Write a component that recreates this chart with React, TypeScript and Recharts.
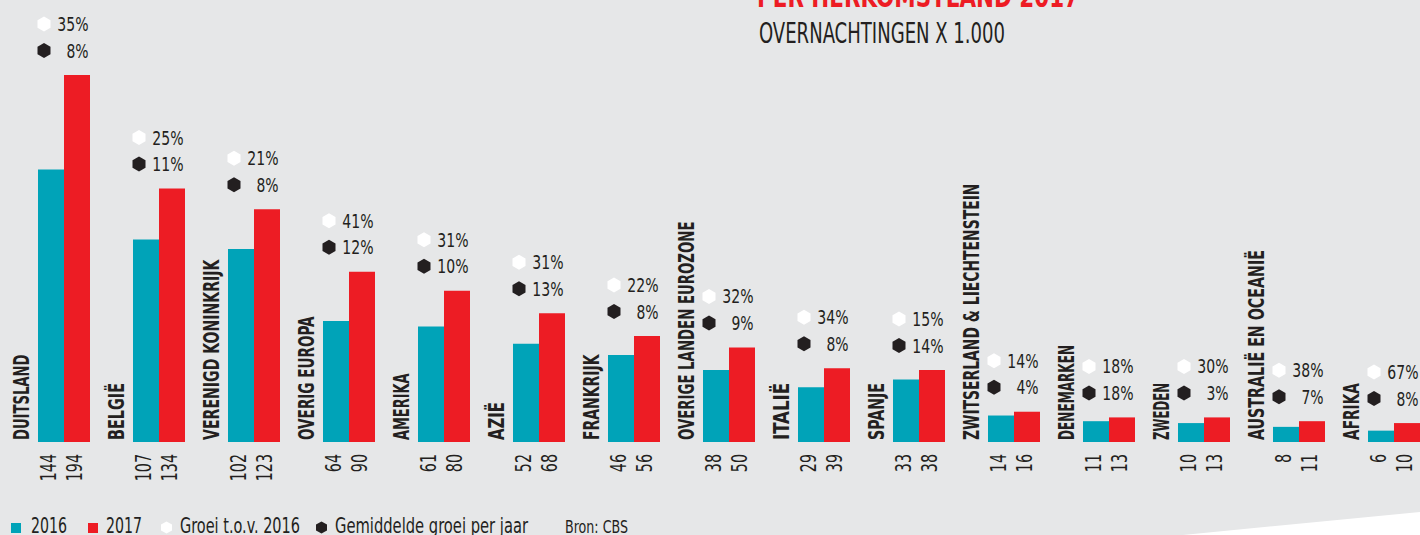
import * as React from 'react';
import { Bar, BarChart, LabelList, XAxis, YAxis } from 'recharts';

const categories = [
  'DUITSLAND',
  'BELGIË',
  'VERENIGD KONINKRIJK',
  'OVERIG EUROPA',
  'AMERIKA',
  'AZIË',
  'FRANKRIJK',
  'OVERIGE LANDEN EUROZONE',
  'ITALIË',
  'SPANJE',
  'ZWITSERLAND & LIECHTENSTEIN',
  'DENEMARKEN',
  'ZWEDEN',
  'AUSTRALIË EN OCEANIË',
  'AFRIKA',
];
const values2016 = [144, 107, 102, 64, 61, 52, 46, 38, 29, 33, 14, 11, 10, 8, 6];
const values2017 = [194, 134, 123, 90, 80, 68, 56, 50, 39, 38, 16, 13, 13, 11, 10];
const groeiVs2016 = [35, 25, 21, 41, 31, 31, 22, 32, 34, 15, 14, 18, 30, 38, 67];
const gemiddeldPerJaar = [8, 11, 8, 12, 10, 13, 8, 9, 8, 14, 4, 18, 3, 7, 8];

const data = categories.map((name, i) => ({
  name,
  v2016: values2016[i],
  v2017: values2017[i],
  groei: groeiVs2016[i],
  gem: gemiddeldPerJaar[i],
}));

const TEAL = '#00a3b8';
const RED = '#ed1c24';
const INK = '#231f20';
const BG = '#e6e7e8';
const FONT = '"Liberation Sans Narrow", "DejaVu Sans Condensed", sans-serif';

const CHART_W = 1441;
const CHART_H = 535;
const AXIS_H = 30;
const MARGIN = { top: 75, right: 0, left: 16, bottom: 63 };
const BASE_Y = CHART_H - MARGIN.bottom - AXIS_H;

// rough width of a condensed-light figure string
const numWidth = (s: string) =>
  s.split('').reduce((w, c) => w + (c === '%' ? 13 : 9.1), 0);

function hexPoints(cx: number, cy: number, w: number, h: number) {
  const hw = w / 2;
  const hh = h / 2;
  return [
    [cx, cy - hh],
    [cx + hw, cy - hh / 2],
    [cx + hw, cy + hh / 2],
    [cx, cy + hh],
    [cx - hw, cy + hh / 2],
    [cx - hw, cy - hh / 2],
  ]
    .map(p => p.join(','))
    .join(' ');
}

function box(props: any) {
  const vb = props.viewBox ?? props;
  return {
    x: Number(vb.x ?? props.x),
    y: Number(vb.y ?? props.y),
    width: Number(vb.width ?? props.width),
    height: Number(vb.height ?? props.height),
  };
}

// category name, rotated, left of the bar pair
const CategoryTick = (props: any) => {
  const { x, payload } = props;
  const label = String(payload.value);
  return (
    <text
      transform={`translate(${x - 35},${BASE_Y - 2}) rotate(-90)`}
      fontFamily={FONT}
      fontWeight={700}
      fontSize={21.5}
      fill={INK}
      textLength={label.length * 9.5}
      lengthAdjust='spacingAndGlyphs'
    >
      {label}
    </text>
  );
};

// value below a bar
const ValueLabel = (props: any) => {
  const { x, width } = box(props);
  const s = String(props.value);
  return (
    <text
      transform={`translate(${x + width / 2 + 5},${BASE_Y + 12}) rotate(-90)`}
      textAnchor='end'
      fontFamily={FONT}
      fontSize={20.5}
      fill={INK}
      textLength={numWidth(s)}
      lengthAdjust='spacingAndGlyphs'
    >
      {s}
    </text>
  );
};

// growth figures above the 2017 bar
const GrowthLabel = (props: any) => {
  const { x, y, width } = box(props);
  const d = data[props.index];
  const hx = x - width + 6;
  const right = x + width - 1.5;
  const a = `${d.groei}%`;
  const b = `${d.gem}%`;
  return (
    <g fontFamily={FONT} fontSize={20} fill={INK}>
      <polygon points={hexPoints(hx, y - 51, 13, 15)} fill='#ffffff' />
      <text
        x={right}
        y={y - 44}
        textAnchor='end'
        textLength={numWidth(a)}
        lengthAdjust='spacingAndGlyphs'
      >
        {a}
      </text>
      <polygon points={hexPoints(hx, y - 24.5, 13, 15)} fill={INK} />
      <text
        x={right}
        y={y - 17.5}
        textAnchor='end'
        textLength={numWidth(b)}
        lengthAdjust='spacingAndGlyphs'
      >
        {b}
      </text>
    </g>
  );
};

export default function App() {
  return (
    <div
      style={{
        position: 'absolute',
        left: 0,
        top: 0,
        width: 1420,
        height: 535,
        overflow: 'hidden',
        background: BG,
      }}
    >
      <BarChart
        width={CHART_W}
        height={CHART_H}
        data={data}
        margin={MARGIN}
        barSize={26}
        barGap={0}
      >
        <XAxis
          dataKey='name'
          height={AXIS_H}
          axisLine={false}
          tickLine={false}
          interval={0}
          tick={<CategoryTick />}
        />
        <YAxis hide type='number' domain={[0, 194]} />
        <Bar dataKey='v2016' fill={TEAL} isAnimationActive={false}>
          <LabelList dataKey='v2016' content={<ValueLabel />} />
        </Bar>
        <Bar dataKey='v2017' fill={RED} isAnimationActive={false}>
          <LabelList dataKey='v2017' content={<ValueLabel />} />
          <LabelList dataKey='groei' content={<GrowthLabel />} />
        </Bar>
      </BarChart>

      <svg
        width={1420}
        height={535}
        style={{ position: 'absolute', left: 0, top: 0, pointerEvents: 'none' }}
      >
        <polygon points='1183,535 1420,512 1420,535' fill='#ffffff' />
        <text
          x={757}
          y={7}
          fontFamily={FONT}
          fontWeight={700}
          fontSize={30}
          fill={RED}
          textLength={322}
          lengthAdjust='spacingAndGlyphs'
        >
          PER HERKOMSTLAND 2017
        </text>
        <text
          x={759}
          y={43}
          fontFamily={FONT}
          fontSize={28}
          fill={INK}
          textLength={246}
          lengthAdjust='spacingAndGlyphs'
        >
          OVERNACHTINGEN X 1.000
        </text>

        <g fontFamily={FONT} fontSize={21} fill={INK}>
          <rect x={11} y={523} width={10} height={10} fill={TEAL} />
          <text x={31} y={533} textLength={36} lengthAdjust='spacingAndGlyphs'>
            2016
          </text>
          <rect x={88} y={523} width={10} height={10} fill={RED} />
          <text x={106} y={533} textLength={36} lengthAdjust='spacingAndGlyphs'>
            2017
          </text>
          <polygon points={hexPoints(166.5, 527.5, 11, 12)} fill='#ffffff' />
          <text x={180} y={533} textLength={120} lengthAdjust='spacingAndGlyphs'>
            Groei t.o.v. 2016
          </text>
          <polygon points={hexPoints(321.5, 527.5, 11, 12)} fill={INK} />
          <text x={335} y={533} textLength={193} lengthAdjust='spacingAndGlyphs'>
            Gemiddelde groei per jaar
          </text>
          <text
            x={565}
            y={533}
            fontSize={17}
            textLength={63}
            lengthAdjust='spacingAndGlyphs'
          >
            Bron: CBS
          </text>
        </g>
      </svg>
    </div>
  );
}
